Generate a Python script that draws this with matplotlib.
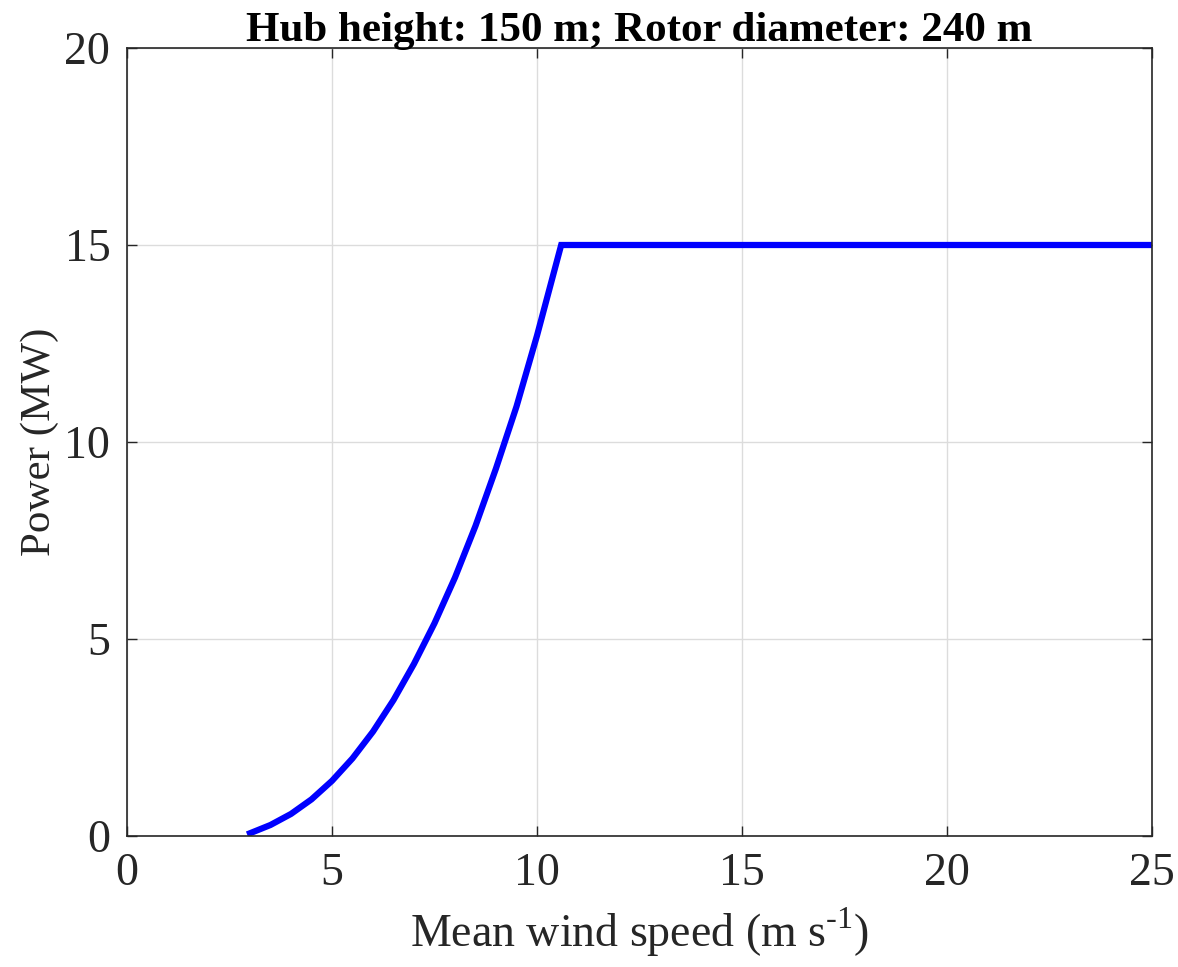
import matplotlib
matplotlib.use("Agg")
import matplotlib.pyplot as plt

# Turbine power curve: wind speed (m/s) vs electrical power (MW)
wind_speed = [3.0, 3.5, 4.0, 4.5, 5.0, 5.5, 6.0, 6.5, 7.0, 7.5, 8.0, 8.5, 9.0,
              9.5, 10.0, 10.59, 11.0, 12.0, 15.0, 20.0, 25.0]
power_mw = [0.07, 0.28, 0.56, 0.93, 1.40, 1.97, 2.65, 3.45, 4.37, 5.40, 6.56,
            7.87, 9.33, 10.90, 12.70, 15.0, 15.0, 15.0, 15.0, 15.0, 15.0]

x_ticks = [0, 5, 10, 15, 20, 25]
y_ticks = [0, 5, 10, 15, 20]

plt.rcParams["font.family"] = ["Liberation Serif", "DejaVu Serif"]
plt.rcParams["mathtext.fontset"] = "custom"
plt.rcParams["mathtext.rm"] = "Liberation Serif"

fig = plt.figure(figsize=(11.78, 9.67), dpi=100)
ax = fig.add_axes([127 / 1178, 1 - 836 / 967, (1152 - 127) / 1178, (836 - 48) / 967])

ax.plot(wind_speed, power_mw, color="#0000ff", lw=4.5, solid_joinstyle="miter")

ax.set_xlim(0, 25)
ax.set_ylim(0, 20)
ax.set_xticks(x_ticks)
ax.set_yticks(y_ticks)
ax.tick_params(direction="in", top=True, right=True, length=7, width=1,
               labelsize=33, color="#262626", labelcolor="#262626", pad=12)
ax.grid(True, color="#dcdcdc", lw=1)
ax.set_axisbelow(True)
for s in ax.spines.values():
    s.set_color("#262626")
    s.set_linewidth(1.2)

ax.set_xlabel(r"Mean wind speed (m s$^{\text{-1}}$)", fontsize=33, color="#262626", labelpad=8)
ax.set_ylabel("Power (MW)", fontsize=31, color="#262626")
ax.yaxis.set_label_coords(-0.066, 0.5)
ax.set_title("Hub height: 150 m; Rotor diameter: 240 m", fontsize=31, fontweight="bold", pad=5)

fig.savefig("out.png", dpi=100)
